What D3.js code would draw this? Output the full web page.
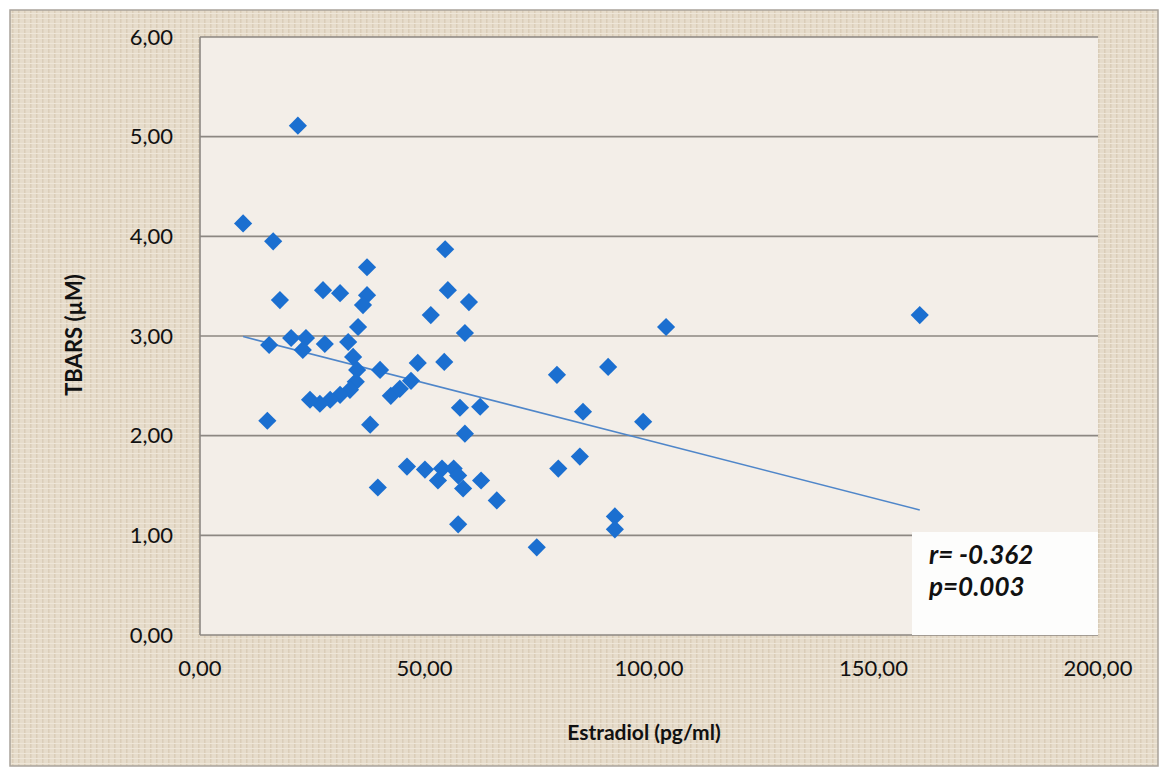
<!DOCTYPE html>
<html>
<head>
<meta charset="utf-8">
<script src="https://cdn.jsdelivr.net/npm/d3@7"></script>
<style>
  body { margin: 0; background: #fff; }
  svg { display: block; font-family: Lato, "Open Sans", sans-serif; }
</style>
</head>
<body>
<div class="chart-box"></div>
<script>
// estradiol (pg/ml) vs TBARS (µM)
var estradiol = [9.6, 16.3, 21.8, 17.8, 27.4, 31.2, 37.2, 37.2, 36.3, 35.2,
  54.6, 55.2, 59.9, 51.4, 59.0, 103.8, 160.3,
  15.4, 20.3, 23.6, 22.9, 27.8,
  33.0, 34.1, 35.0, 34.7, 33.4, 31.2, 29.0, 26.7, 24.5,
  40.1, 48.5, 54.4, 42.5, 44.5, 47.0,
  57.9, 62.4, 59.0, 15.0, 37.9,
  79.5, 90.9, 85.3, 98.7, 84.6, 79.8,
  46.1, 50.1, 53.9, 53.0, 56.5, 57.5, 58.6, 62.6, 66.1, 57.5, 39.6,
  75.0, 92.4, 92.4];
var tbars = [4.13, 3.95, 5.11, 3.36, 3.46, 3.43, 3.69, 3.41, 3.31, 3.09,
  3.87, 3.46, 3.34, 3.21, 3.03, 3.09, 3.21,
  2.91, 2.98, 2.98, 2.86, 2.92,
  2.94, 2.79, 2.66, 2.54, 2.46, 2.41, 2.36, 2.32, 2.36,
  2.66, 2.73, 2.74, 2.40, 2.47, 2.55,
  2.28, 2.29, 2.02, 2.15, 2.11,
  2.61, 2.69, 2.24, 2.14, 1.79, 1.67,
  1.69, 1.66, 1.67, 1.55, 1.67, 1.60, 1.47, 1.55, 1.35, 1.11, 1.48,
  0.88, 1.19, 1.06];

var xTicks = [0, 50, 100, 150, 200];
var yTicks = [0, 1, 2, 3, 4, 5, 6];
// linear trend as drawn in the chart
var trendIntercept = 3.105;
var trendSlope = -0.01154;
var statLines = ["r= -0.362", "p=0.003"];

var width = 1168, height = 774;
var margin = { left: 200, right: 70, top: 37, bottom: 139 };

var svg = d3.select(".chart-box").append("svg")
    .attr("width", width)
    .attr("height", height);

// paper-like texture behind the chart
var defs = svg.append("defs");
var pat = defs.append("pattern")
    .attr("id", "paper")
    .attr("width", 6).attr("height", 5)
    .attr("patternUnits", "userSpaceOnUse");
pat.append("rect").attr("width", 6).attr("height", 5).attr("fill", "#e6dccb");
pat.append("rect").attr("x", 0).attr("width", 1.5).attr("height", 5).attr("fill", "#dacdb8");
pat.append("rect").attr("y", 3).attr("width", 6).attr("height", 1).attr("fill", "#eee6d8");

svg.append("rect")
    .attr("x", 10).attr("y", 10)
    .attr("width", 1148).attr("height", 756)
    .attr("fill", "url(#paper)")
    .attr("stroke", "#a9a39b")
    .attr("stroke-width", 1.5);

var x = d3.scaleLinear().domain([0, 200]).range([margin.left, width - margin.right]);
var y = d3.scaleLinear().domain([0, 6]).range([height - margin.bottom, margin.top]);

// plot area
svg.append("rect")
    .attr("x", x(0)).attr("y", y(6))
    .attr("width", x(200) - x(0)).attr("height", y(0) - y(6))
    .attr("fill", "#f3eee8");

var fmt = function(d) { return d3.format(".2f")(d).replace(".", ","); };

// horizontal gridlines
svg.append("g")
  .selectAll("line")
  .data(yTicks)
  .enter().append("line")
    .attr("x1", x(0)).attr("x2", x(200))
    .attr("y1", function(d) { return y(d); })
    .attr("y2", function(d) { return y(d); })
    .attr("stroke", "#8c8782")
    .attr("stroke-width", 1.6);

svg.append("line")
    .attr("x1", x(0)).attr("x2", x(0))
    .attr("y1", y(0)).attr("y2", y(6))
    .attr("stroke", "#8c8782")
    .attr("stroke-width", 1.6);

// tick labels
svg.append("g")
  .selectAll("text")
  .data(yTicks)
  .enter().append("text")
    .attr("x", x(0) - 27)
    .attr("y", function(d) { return y(d); })
    .attr("dy", "0.35em")
    .attr("text-anchor", "end")
    .attr("font-size", 22)
    .attr("fill", "#111")
    .text(fmt);

svg.append("g")
  .selectAll("text")
  .data(xTicks)
  .enter().append("text")
    .attr("x", function(d) { return x(d); })
    .attr("y", y(0) + 33)
    .attr("dy", "0.35em")
    .attr("text-anchor", "middle")
    .attr("font-size", 22)
    .attr("fill", "#111")
    .text(fmt);

// axis titles
svg.append("text")
    .attr("x", (x(0) + x(200)) / 2 - 5)
    .attr("y", 733)
    .attr("dy", "0.35em")
    .attr("text-anchor", "middle")
    .attr("font-size", 21)
    .attr("font-weight", "bold")
    .attr("fill", "#111")
    .text("Estradiol (pg/ml)");

svg.append("text")
    .attr("transform", "translate(74," + 335 + ") rotate(-90)")
    .attr("dy", "0.35em")
    .attr("text-anchor", "middle")
    .attr("font-size", 22)
    .attr("font-weight", "bold")
    .attr("fill", "#111")
    .text("TBARS (µM)");

// trend line over the data range
var xExt = d3.extent(estradiol);
svg.append("line")
    .attr("x1", x(xExt[0])).attr("y1", y(trendIntercept + trendSlope * xExt[0]))
    .attr("x2", x(xExt[1])).attr("y2", y(trendIntercept + trendSlope * xExt[1]))
    .attr("stroke", "#4f86c9")
    .attr("stroke-width", 1.6);

// points
var diamond = d3.symbol().type(d3.symbolSquare).size(165);
svg.append("g")
  .selectAll("path")
  .data(estradiol)
  .enter().append("path")
    .attr("d", diamond)
    .attr("transform", function(d, i) {
      return "translate(" + x(d) + "," + y(tbars[i]) + ") rotate(45)";
    })
    .attr("fill", "#1b6fd0");

// r / p box
var box = svg.append("g");
box.append("rect")
    .attr("x", 912).attr("y", 532)
    .attr("width", 186).attr("height", 103)
    .attr("fill", "#fdfdfc");
box.selectAll("text")
  .data(statLines)
  .enter().append("text")
    .attr("x", 929)
    .attr("y", function(d, i) { return 564 + i * 32; })
    .attr("font-size", 26)
    .attr("font-weight", "bold")
    .attr("font-style", "italic")
    .attr("fill", "#111")
    .text(function(d) { return d; });
</script>
</body>
</html>
